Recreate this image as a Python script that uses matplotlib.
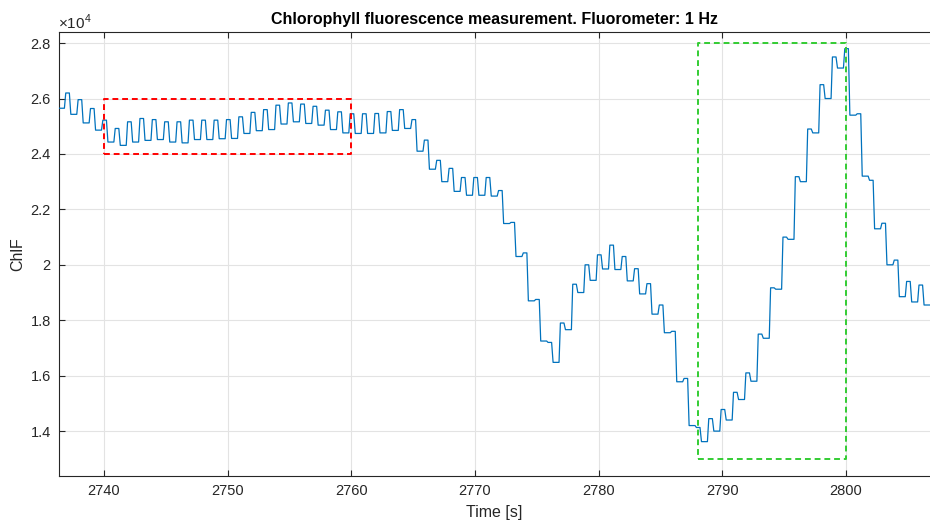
import numpy as np
import matplotlib
matplotlib.use("Agg")
import matplotlib.pyplot as plt
from matplotlib.ticker import FuncFormatter, MultipleLocator

plt.rcParams['font.family'] = ['Liberation Sans', 'DejaVu Sans']
plt.rcParams['mathtext.fontset'] = 'custom'
plt.rcParams['mathtext.rm'] = 'Liberation Sans'

# one fluorometer pulse per second; first rising edge at 2736.8 s
pulse_start = np.arange(2736.8, 2806.0, 1.0)
chlf_start = 25650  # level before the first pulse

# level reached during each pulse and the level it falls back to afterwards
chlf_high = [26200, 25960, 25640, 25220, 24920, 25160, 25280, 25240, 25160, 25160,
             25220, 25220, 25220, 25240, 25340, 25500, 25600, 25760, 25840, 25800,
             25720, 25580, 25520, 25450, 25450, 25460, 25530, 25600, 25240, 24500,
             23770, 23480, 23150, 23150, 23150, 22680, 21530, 20430, 18750, 17200,
             17900, 19300, 20000, 20360, 20710, 20300, 19860, 19320, 18550, 17600,
             15900, 14130, 14450, 14780, 15400, 16100, 17500, 19170, 21000, 23180,
             24900, 26500, 27500, 27800, 25450, 23050, 21500, 20170, 19400, 19270]
chlf_low = [25430, 25120, 24860, 24430, 24310, 24430, 24490, 24520, 24430, 24400,
            24520, 24520, 24550, 24560, 24740, 24840, 24880, 25080, 25160, 25100,
            25040, 24880, 24760, 24740, 24740, 24760, 24850, 24920, 24100, 23450,
            23000, 22650, 22510, 22510, 22480, 21490, 20300, 18700, 17250, 16480,
            17660, 19000, 19440, 19850, 19830, 19420, 18950, 18220, 17550, 15780,
            14200, 13620, 14000, 14400, 15140, 15800, 17350, 19120, 20920, 23000,
            24760, 26000, 27100, 25400, 23200, 21300, 20000, 18850, 18660, 18550]

# red box: steady-state pulses, green box: induction/relaxation episode
red_box = (2740, 2760, 24000, 26000)
green_box = (2788, 2800, 13000, 28000)

# build the pulse train: rise, plateau, fall, then hold until the next pulse
t = [2736.36]
y = [chlf_start]
prev = chlf_start
for t0, hi, lo in zip(pulse_start, chlf_high, chlf_low):
    t += [t0, t0 + 0.11, t0 + 0.40, t0 + 0.52]
    y += [prev, hi, hi, lo]
    prev = lo
t.append(2806.8)
y.append(prev)

fig = plt.figure(figsize=(9.3, 5.24), dpi=100)
ax = fig.add_axes([0.0634, 0.0916, 0.9366, 0.8473])

ax.plot(t, y, color='#0072BD', lw=0.9, zorder=3)

x0, x1, y0, y1 = red_box
ax.plot([x0, x1, x1, x0, x0], [y0, y0, y1, y1, y0], color='#ff0000',
        lw=1.4, ls=(0, (3, 2)), zorder=4)
x0, x1, y0, y1 = green_box
ax.plot([x0, x1, x1, x0, x0], [y0, y0, y1, y1, y0], color='#33cc33',
        lw=1.4, ls=(0, (3, 2)), zorder=4)

ax.set_xlim(2736.36, 2806.8)
ax.set_ylim(12380, 28400)
ax.xaxis.set_major_locator(MultipleLocator(10))
ax.yaxis.set_major_locator(MultipleLocator(2000))
ax.yaxis.set_major_formatter(FuncFormatter(lambda v, p: f"{v / 1e4:g}"))

ax.grid(True, color='#e3e3e3', lw=0.8, zorder=0)
ax.set_axisbelow(True)
ax.tick_params(direction='in', length=4, width=0.8, colors='#262626',
               labelsize=10.5, top=True, right=False, pad=6)
for side in ['left', 'bottom', 'top']:
    ax.spines[side].set_color('#262626')
    ax.spines[side].set_linewidth(0.8)
ax.spines['right'].set_visible(False)

ax.set_xlabel('Time [s]', fontsize=11.5, color='#262626', labelpad=5)
ax.set_ylabel('ChlF', fontsize=11.5, color='#262626', labelpad=4)
ax.set_title('Chlorophyll fluorescence measurement. Fluorometer: 1 Hz',
             fontsize=11.5, fontweight='bold', color='#000000', pad=6)
fig.text(0.062, 0.958, r'$\times$10$^{4}$', fontsize=11, color='#262626',
         ha='left', va='center')

fig.savefig('out.png', dpi=100)
